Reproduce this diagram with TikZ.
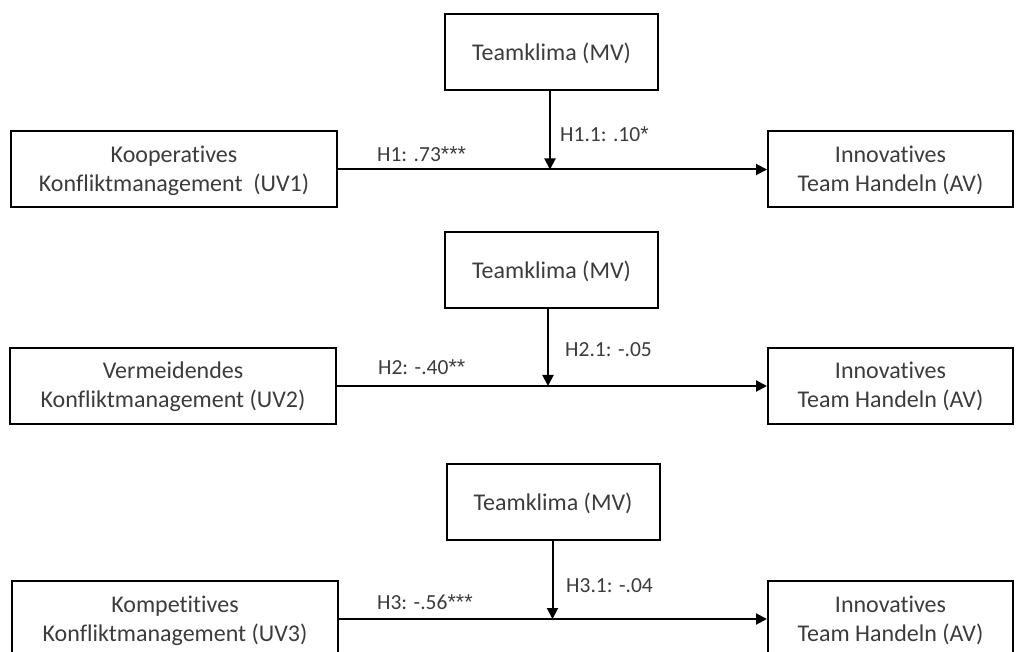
\documentclass[tikz,border=0pt]{standalone}
\usepackage{fontspec}
\setmainfont{Carlito}[Ligatures=NoCommon]
\newfontfamily\astfont{Liberation Sans}
\usetikzlibrary{arrows.meta}
\definecolor{txt}{RGB}{60,60,60}
\newcommand{\mytwo}[2]{\raisebox{7pt}[0pt][0pt]{\begin{tabular}[t]{@{}c@{}}#1\\#2\end{tabular}}}
\newcommand{\myone}[1]{\raisebox{-9pt}[0pt][0pt]{#1}}
\newcommand{\st}{{\astfont *}}
\tikzset{
  box/.style={draw=black, line width=2pt, inner sep=0pt, text=txt,
    font=\fontsize{24}{29}\selectfont},
  leftbox/.style={box, minimum width=326pt, minimum height=76pt},
  rightbox/.style={box, minimum width=245pt, minimum height=76pt},
  modbox/.style={box, minimum width=213pt, minimum height=76pt},
  lab/.style={inner sep=0pt, text=txt, font=\fontsize{21.5}{26}\selectfont, anchor=base west},
  arr/.style={line width=2pt, -{Triangle[length=11pt,width=11pt]}},
}
\begin{document}
\begin{tikzpicture}[x=1pt,y=-1pt]
\fill[white] (0,0) rectangle (1018,652);
\useasboundingbox (0,0) rectangle (1018,652);

% group 1
\node[modbox] (T1) at (551.5,52) {\myone{Teamklima (MV)}};
\node[leftbox] (L1) at (174,169.5) {\mytwo{Kooperatives}{Konfliktmanagement\ \ (UV1)}};
\node[rightbox] (R1) at (890.5,169.5) {\mytwo{Innovatives}{Team Handeln (AV)}};
\coordinate (m1) at (550,169.5);
\draw[arr] (L1.east) -- (R1.west);
\draw[arr] (T1.south -| m1) -- (m1);
\node[lab] (h1) at (377,161.7) {H1: .73\st\st\st};
\node[lab] (h11) at (560,142) {H1.1: .10\st};

% group 2
\node[modbox] (T2) at (551.5,270) {\myone{Teamklima (MV)}};
\node[leftbox] (L2) at (173,386) {\mytwo{Vermeidendes}{Konfliktmanagement (UV2)}};
\node[rightbox] (R2) at (890.5,386) {\mytwo{Innovatives}{Team Handeln (AV)}};
\coordinate (m2) at (548,386);
\draw[arr] (L2.east) -- (R2.west);
\draw[arr] (T2.south -| m2) -- (m2);
\node[lab] (h2) at (378,374) {H2: -.40\st\st};
\node[lab] (h21) at (565,357) {H2.1: -.05};

% group 3
\node[modbox] (T3) at (553,501.5) {\myone{Teamklima (MV)}};
\node[leftbox] (L3) at (175,619) {\mytwo{Kompetitives}{Konfliktmanagement (UV3)}};
\node[rightbox] (R3) at (890.5,619) {\mytwo{Innovatives}{Team Handeln (AV)}};
\coordinate (m3) at (552.5,619);
\draw[arr] (L3.east) -- (R3.west);
\draw[arr] (T3.south -| m3) -- (m3);
\node[lab] (h3) at (377,609) {H3: -.56\st\st\st};
\node[lab] (h31) at (566,592) {H3.1: -.04};
\end{tikzpicture}
\end{document}
